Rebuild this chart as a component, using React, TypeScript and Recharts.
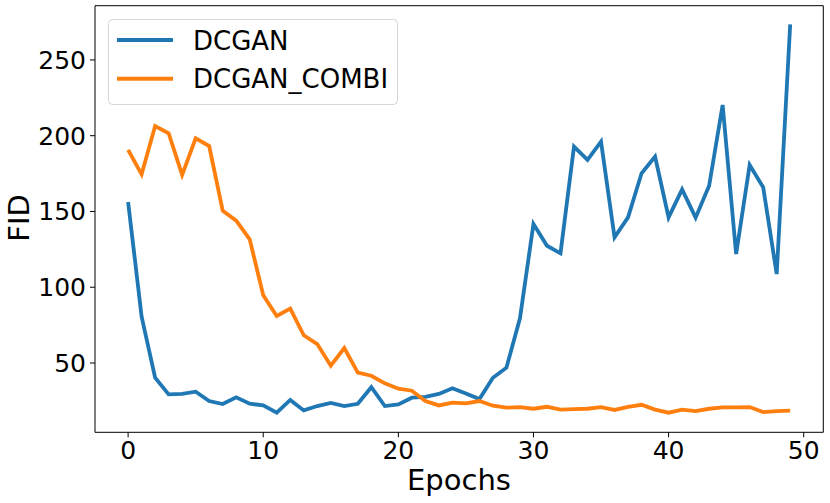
import { Legend, Line, LineChart, ReferenceLine, XAxis, YAxis } from 'recharts';

const epochs = Array.from({ length: 50 }, (_, i) => i);

const dcgan = [
  156.3, 80.6, 40.3, 29.3, 29.6, 31.1, 24.9, 22.9, 27.3, 23.1,
  22.0, 17.2, 25.6, 18.7, 21.6, 23.6, 21.6, 23.1, 34.0, 21.6,
  22.7, 27.1, 27.7, 29.6, 33.3, 29.9, 26.2, 40.3, 46.9, 79.5,
  141.7, 127.4, 122.4, 192.8, 184.0, 196.1, 132.9, 146.1, 175.2, 186.2,
  146.1, 164.6, 145.9, 167.0, 220.3, 121.9, 180.7, 166.0, 108.7, 273.5,
];

const dcganCombi = [
  190.6, 174.5, 206.4, 201.6, 174.1, 198.3, 193.2, 150.5, 143.9, 131.6,
  94.7, 81.0, 85.9, 68.3, 62.5, 48.2, 59.9, 43.6, 41.6, 36.6,
  33.0, 31.7, 24.9, 22.0, 23.8, 23.3, 24.9, 21.8, 20.5, 20.9,
  19.8, 21.1, 19.2, 19.6, 19.8, 20.9, 19.0, 21.1, 22.4, 19.2,
  17.2, 19.2, 18.3, 19.8, 20.7, 20.7, 20.9, 17.6, 18.3, 18.5,
];

const xTicks = [0, 10, 20, 30, 40, 50];
const yTicks = [50, 100, 150, 200, 250];
const xDomain: [number, number] = [-2.45, 51.45];
const yDomain: [number, number] = [4.26, 285.8];

const data = epochs.map((e, i) => ({ epoch: e, dcgan: dcgan[i], combi: dcganCombi[i] }));

const FONT = 'DejaVu Sans, sans-serif';
const BLUE = '#1f77b4';
const ORANGE = '#ff7f0e';

const legendItems = [
  { name: 'DCGAN', color: BLUE },
  { name: 'DCGAN_COMBI', color: ORANGE },
];

const LegendBox = () => (
  <svg width={290} height={86} style={{ display: 'block' }}>
    <rect x={0.5} y={0.5} width={289} height={85} rx={4} fill="rgba(255,255,255,0.8)" stroke="#d6d6d6" />
    {legendItems.map((item, i) => {
      const y = 21 + i * 38.7;
      return (
        <g key={item.name}>
          <line x1={9} x2={65} y1={y} y2={y} stroke={item.color} strokeWidth={4} />
          <text x={85} y={y + 9.5} fontSize={26} fontFamily={FONT} fill="#000">
            {item.name}
          </text>
        </g>
      );
    })}
  </svg>
);

export default function App() {
  return (
    <div style={{ position: 'absolute', left: 0, top: 0, width: 830, height: 503, background: '#fff' }}>
      <LineChart width={830} height={503} data={data} margin={{ top: 5.7, right: 6.7, bottom: 0, left: 0 }}>
        <XAxis
          dataKey="epoch"
          type="number"
          domain={xDomain}
          ticks={xTicks}
          allowDataOverflow
          height={70.7}
          stroke="#000"
          tickSize={5}
          tickMargin={4}
          tick={{ fontSize: 25, fontFamily: FONT, fill: '#000' }}
          label={{
            content: () => (
              <text x={459} y={490} textAnchor="middle" fontSize={29} fontFamily={FONT} fill="#000">
                Epochs
              </text>
            ),
          }}
        />
        <YAxis
          type="number"
          domain={yDomain}
          ticks={yTicks}
          allowDataOverflow
          width={95}
          stroke="#000"
          tickSize={5}
          tickMargin={4}
          tick={{ fontSize: 25, fontFamily: FONT, fill: '#000' }}
          label={{
            content: () => (
              <text
                x={29}
                y={218}
                textAnchor="middle"
                fontSize={29}
                fontFamily={FONT}
                fill="#000"
                transform="rotate(-90 29 218)"
              >
                FID
              </text>
            ),
          }}
        />
        {/* top and right spines */}
        <ReferenceLine y={yDomain[1]} stroke="#000" strokeWidth={1} />
        <ReferenceLine x={xDomain[1]} stroke="#000" strokeWidth={1} />
        <Legend
          layout="vertical"
          align="center"
          verticalAlign="middle"
          wrapperStyle={{ position: 'absolute', left: 108, top: 19, width: 290, height: 86 }}
          content={() => <LegendBox />}
        />
        <Line
          type="linear"
          dataKey="dcgan"
          stroke={BLUE}
          strokeWidth={3.8}
          dot={false}
          isAnimationActive={false}
        />
        <Line
          type="linear"
          dataKey="combi"
          stroke={ORANGE}
          strokeWidth={3.8}
          dot={false}
          isAnimationActive={false}
        />
      </LineChart>
    </div>
  );
}
